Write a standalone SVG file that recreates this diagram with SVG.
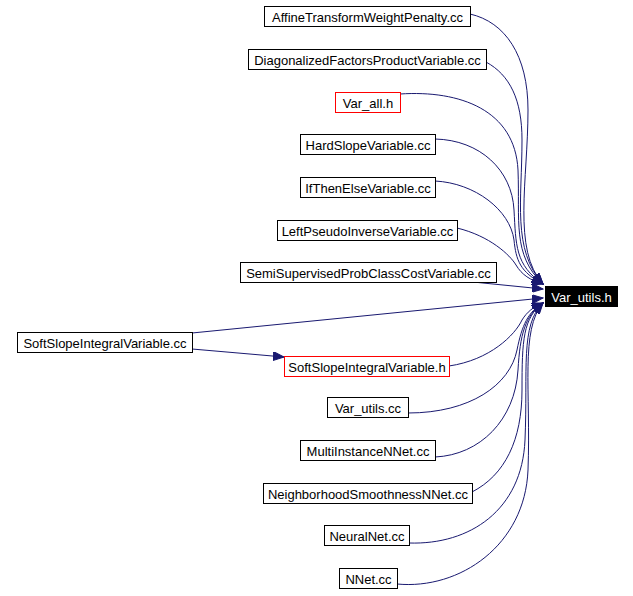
<svg xmlns="http://www.w3.org/2000/svg" width="633" height="596" viewBox="0 0 633 596">
<style>
.box{fill:#fff;stroke:#000;stroke-width:1}
.red{fill:#fff;stroke:#ff0000;stroke-width:1}
.blk{fill:#000;stroke:#000;stroke-width:1}
text{font-family:"Liberation Sans",Arial,sans-serif;font-size:13px;text-anchor:middle;fill:#000}
.wt{fill:#fff}
.e{fill:none;stroke:#191970;stroke-width:1;marker-end:url(#ah)}
</style>
<defs>
<marker id="ah" markerUnits="userSpaceOnUse" markerWidth="12" markerHeight="9" refX="11" refY="4.5" orient="auto">
<path d="M0,0 L11,4.5 L0,9 z" fill="#191970" stroke="#191970" stroke-width="1"/>
</marker>
</defs>
<rect width="633" height="596" fill="#fff"/>
<g id="connectors">
<path class="e" d="M470,14 C505,22 528,55 528,110 C528,180 512,250 543,284"/>
<path class="e" d="M486,62 C510,75 522,100 522,140 C522,200 512,250 543,284"/>
<path class="e" d="M400,94 C460,90 515,110 518,170 C520,220 512,255 543,284"/>
<path class="e" d="M435,139 C480,140 512,170 514,210 C516,245 515,265 543,284"/>
<path class="e" d="M435,181 C475,183 510,210 514,240 C516,260 520,272 543,284"/>
<path class="e" d="M457,228 C490,236 510,255 516,265 C522,275 530,280 543,284"/>
<path class="e" d="M473,282 L543,289"/>
<path class="e" d="M192,333 L543,298"/>
<path class="e" d="M192,349 L284,357"/>
<path class="e" d="M449,366 C490,360 515,335 522,320 C527,312 533,307 543,303"/>
<path class="e" d="M408,413 C470,413 510,385 517,350 C522,325 528,312 543,303"/>
<path class="e" d="M435,457 C480,455 515,420 518,370 C520,335 525,315 543,303"/>
<path class="e" d="M472,492 C505,475 522,440 522,390 C522,340 523,318 543,303"/>
<path class="e" d="M409,543 C470,545 522,510 525,440 C528,370 520,325 543,303"/>
<path class="e" d="M397,584 C460,590 525,545 528,470 C531,390 520,330 543,303"/>
</g>
<g id="n_affine"><rect class="box" x="264.5" y="6.5" width="206" height="20"/><text x="367.5" y="21.5">AffineTransformWeightPenalty.cc</text></g>
<g id="n_diag"><rect class="box" x="248.5" y="49.5" width="238" height="20"/><text x="367.5" y="64.5">DiagonalizedFactorsProductVariable.cc</text></g>
<g id="n_varall"><rect class="red" x="335.5" y="92.5" width="65" height="20"/><text x="368" y="107.5">Var_all.h</text></g>
<g id="n_hard"><rect class="box" x="300.5" y="134.5" width="135" height="20"/><text x="368" y="149.5">HardSlopeVariable.cc</text></g>
<g id="n_ifthen"><rect class="box" x="300.5" y="177.5" width="135" height="20"/><text x="368" y="192.5">IfThenElseVariable.cc</text></g>
<g id="n_left"><rect class="box" x="277.5" y="220.5" width="180" height="20"/><text x="367.5" y="235.5">LeftPseudoInverseVariable.cc</text></g>
<g id="n_semi"><rect class="box" x="240.5" y="262.5" width="256" height="20"/><text x="368.5" y="277.5">SemiSupervisedProbClassCostVariable.cc</text></g>
<g id="n_varutilsh"><rect class="blk" x="545.5" y="286.5" width="72" height="20"/><text class="wt" x="581.5" y="301.5">Var_utils.h</text></g>
<g id="n_softcc"><rect class="box" x="17.5" y="332.5" width="175" height="20"/><text x="105" y="347.5">SoftSlopeIntegralVariable.cc</text></g>
<g id="n_softh"><rect class="red" x="284.5" y="356.5" width="165" height="20"/><text x="367" y="371.5">SoftSlopeIntegralVariable.h</text></g>
<g id="n_varutilscc"><rect class="box" x="327.5" y="397.5" width="81" height="20"/><text x="368" y="412.5">Var_utils.cc</text></g>
<g id="n_multi"><rect class="box" x="300.5" y="440.5" width="135" height="20"/><text x="368" y="455.5">MultiInstanceNNet.cc</text></g>
<g id="n_neigh"><rect class="box" x="263.5" y="483.5" width="209" height="20"/><text x="368" y="498.5">NeighborhoodSmoothnessNNet.cc</text></g>
<g id="n_neural"><rect class="box" x="324.5" y="525.5" width="85" height="20"/><text x="367" y="540.5">NeuralNet.cc</text></g>
<g id="n_nnet"><rect class="box" x="339.5" y="568.5" width="58" height="20"/><text x="368.5" y="583.5">NNet.cc</text></g>
</svg>
